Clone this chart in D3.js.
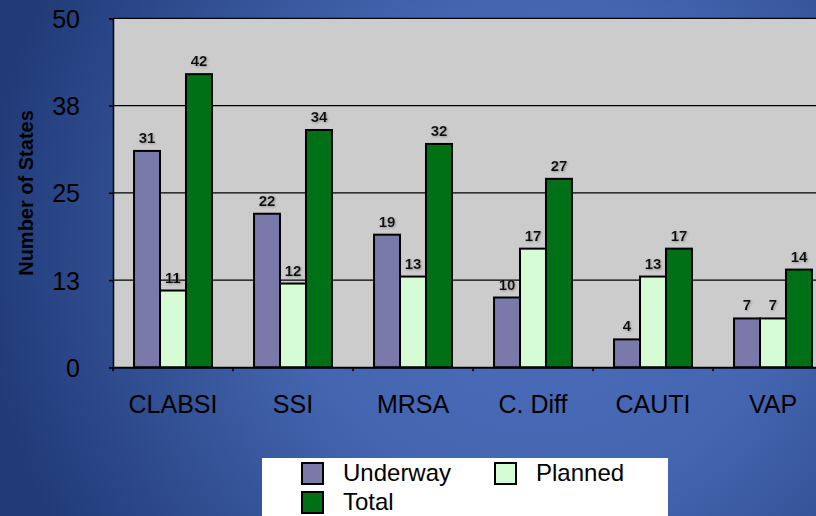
<!DOCTYPE html>
<html><head><meta charset="utf-8">
<script src="https://cdn.jsdelivr.net/npm/d3@7"></script>
<style>
html,body{margin:0;padding:0;background:#3a5aa0;}
svg{display:block;font-family:Arial,"Liberation Sans",sans-serif;}
</style></head>
<body><svg id="chart" width="816" height="516"></svg>
<script>
const categories = ["CLABSI","SSI","MRSA","C. Diff","CAUTI","VAP"];
const seriesNames = ["Underway","Planned","Total"];
const underway = [31,22,19,10,4,7];
const planned = [11,12,13,17,13,7];
const total = [42,34,32,27,17,14];
const yTicks = [0,12.5,25,37.5,50];
const yTickLabels = ["0","13","25","38","50"];
const colors = ["#7a7aaa","#d6fcd6","#007016"];

(function(){
const series = [underway, planned, total];
const svg = d3.select("#chart");
const defs = svg.append("defs");
const bg = defs.append("radialGradient").attr("id","bg").attr("gradientUnits","userSpaceOnUse")
  .attr("cx",540).attr("cy",250).attr("r",560).attr("fx",540).attr("fy",250);
bg.append("stop").attr("offset","0").attr("stop-color","#4c6dba");
bg.append("stop").attr("offset","0.45").attr("stop-color","#4465b0");
bg.append("stop").attr("offset","1").attr("stop-color","#213b78");
const sh = defs.append("filter").attr("id","shadow").attr("x","-30%").attr("y","-30%").attr("width","160%").attr("height","160%");
sh.append("feDropShadow").attr("dx",1).attr("dy",1).attr("stdDeviation",1).attr("flood-color","#888").attr("flood-opacity",0.8);

svg.append("rect").attr("width",816).attr("height",516).attr("fill","url(#bg)");

const pLeft = 113, pTop = 18.3, pBottom = 367.3, bandW = 120;
const pRight = pLeft + bandW * categories.length;
const x = d3.scaleBand().domain(categories).range([pLeft, pRight]).paddingInner(0).paddingOuter(0);
const xs = d3.scaleBand().domain(seriesNames).range([0, x.bandwidth()]).paddingInner(0).paddingOuter(0.81);
const y = d3.scaleLinear().domain([0,50]).range([pBottom, pTop]);

svg.append("rect").attr("x",pLeft).attr("y",pTop).attr("width",pRight-pLeft).attr("height",pBottom-pTop).attr("fill","#cccccc");

svg.append("g").selectAll("line").data(yTicks.slice(1)).join("line")
  .attr("x1",pLeft).attr("x2",pRight).attr("y1",d=>y(d)).attr("y2",d=>y(d))
  .attr("stroke","#000").attr("stroke-width",1.3);

const g = svg.append("g");
categories.forEach((c,i)=>{
  series.forEach((s,j)=>{
    g.append("rect")
      .attr("x", x(c)+xs(seriesNames[j]))
      .attr("y", y(s[i]))
      .attr("width", xs.bandwidth())
      .attr("height", y(0)-y(s[i]))
      .attr("fill", colors[j]).attr("stroke","#000").attr("stroke-width",2);
    g.append("text")
      .attr("x", x(c)+xs(seriesNames[j])+xs.bandwidth()/2)
      .attr("y", y(s[i])-8)
      .attr("text-anchor","middle").attr("font-size",15).attr("font-weight","bold")
      .attr("fill","#111").attr("filter","url(#shadow)")
      .text(s[i]);
  });
});

const yAxis = d3.axisLeft(y).tickValues(yTicks).tickFormat((d,i)=>yTickLabels[i]).tickSize(4).tickPadding(29);
const ya = svg.append("g").attr("transform",`translate(${pLeft},0)`).call(yAxis);
ya.attr("font-size",25).attr("font-family","Arial, 'Liberation Sans', sans-serif");
ya.select(".domain").attr("stroke","#000").attr("stroke-width",1.5);
ya.selectAll(".tick line").attr("stroke","#000").attr("stroke-width",1.5);
ya.selectAll(".tick text").attr("font-size",25).attr("fill","#000").attr("dy","0.36em");

const xAxis = d3.axisBottom(x).tickSize(0).tickPadding(28);
const xa = svg.append("g").attr("transform",`translate(0,${pBottom})`).call(xAxis);
xa.attr("font-size",25).attr("font-family","Arial, 'Liberation Sans', sans-serif");
xa.select(".domain").attr("stroke","#000").attr("stroke-width",2);
xa.selectAll(".tick text").attr("font-size",25).attr("fill","#000");
svg.append("g").selectAll("line").data(d3.range(categories.length+1)).join("line")
  .attr("x1",d=>pLeft+d*bandW).attr("x2",d=>pLeft+d*bandW)
  .attr("y1",pBottom).attr("y2",pBottom+4).attr("stroke","#000").attr("stroke-width",1.5);

svg.append("text").attr("transform","translate(33,193) rotate(-90)")
  .attr("text-anchor","middle").attr("font-size",20).attr("font-weight","bold").attr("fill","#000")
  .text("Number of States");

const lg = svg.append("g");
lg.append("rect").attr("x",262).attr("y",458).attr("width",406).attr("height",60).attr("fill","#fff");
const legendPos = [[302,463],[495,463],[302,492]];
seriesNames.forEach((n,j)=>{
  const [lx,ly] = legendPos[j];
  lg.append("rect").attr("x",lx).attr("y",ly).attr("width",21).attr("height",21)
    .attr("fill",colors[j]).attr("stroke","#000").attr("stroke-width",2);
  lg.append("text").attr("x",lx+41).attr("y",ly+18).attr("font-size",24).attr("fill","#000").text(n);
});
})();
</script></body></html>
